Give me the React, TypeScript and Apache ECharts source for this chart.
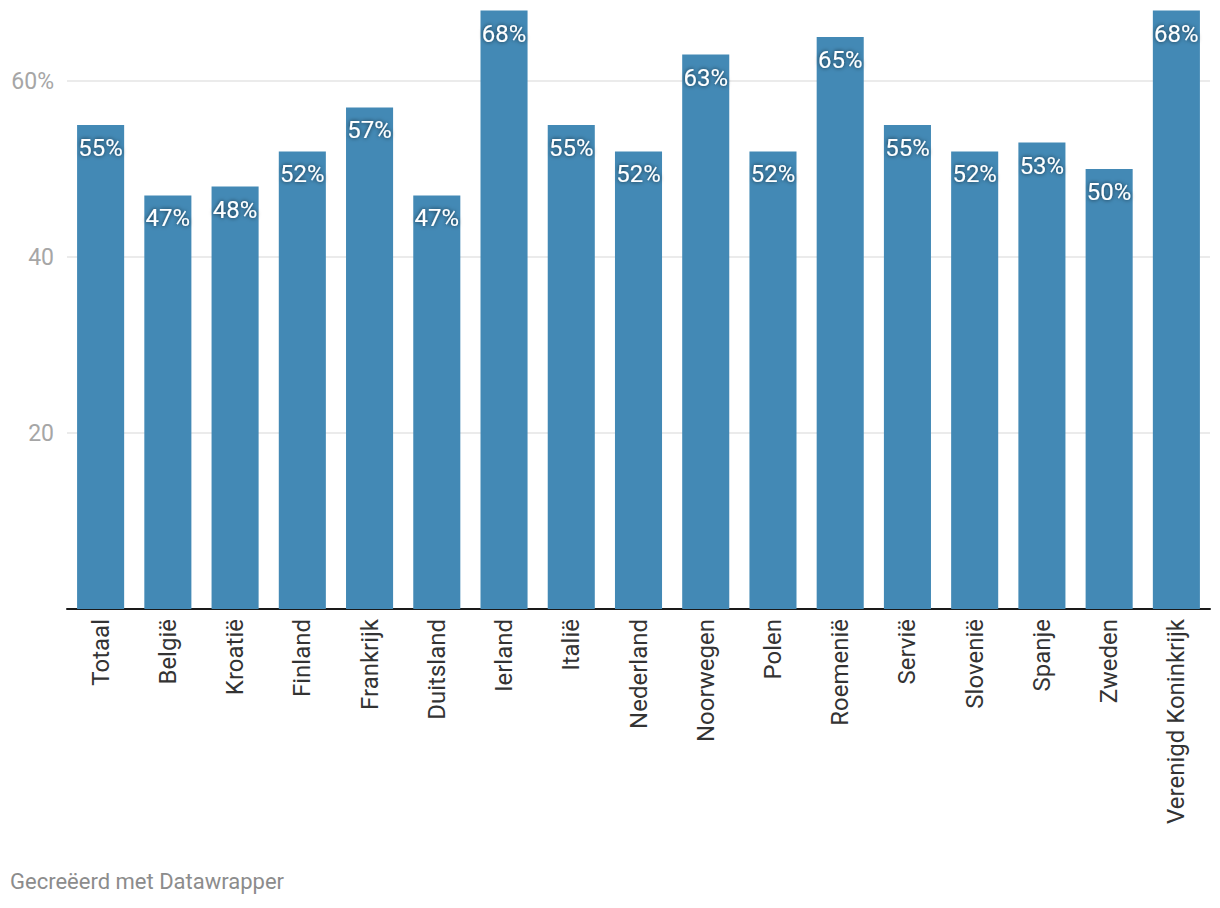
import React, { useEffect, useRef } from "react";
import * as echarts from "echarts";

const categories = [
  "Totaal", "België", "Kroatië", "Finland", "Frankrijk", "Duitsland", "Ierland", "Italië",
  "Nederland", "Noorwegen", "Polen", "Roemenië", "Servië", "Slovenië", "Spanje", "Zweden",
  "Verenigd Koninkrijk",
];
const values = [55, 47, 48, 52, 57, 47, 68, 55, 52, 63, 52, 65, 55, 52, 53, 50, 68];
const yMin = 0;
const yMax = 68;
const yInterval = 20;

export default function App() {
  const ref = useRef<HTMLDivElement>(null);
  useEffect(() => {
    const chart = echarts.init(ref.current!, null, { renderer: "svg" });
    const font = "Roboto, 'Noto Sans', sans-serif";
    chart.setOption({
      animation: false,
      textStyle: { fontFamily: font },
      grid: { left: 67, right: 10, top: 609 - yMax * 8.8, bottom: 299, containLabel: false },
      xAxis: {
        type: "category",
        data: categories,
        axisLine: { lineStyle: { color: "#1a1a1a", width: 2 } },
        axisTick: { show: false },
        axisLabel: { rotate: 90, margin: 10, fontSize: 24, color: "#333333", fontFamily: font },
      },
      yAxis: {
        type: "value",
        min: yMin,
        max: yMax,
        interval: yInterval,
        axisLine: { show: false },
        axisTick: { show: false },
        splitLine: { showMaxLine: false, lineStyle: { color: "#e5e5e5", width: 1.5 } },
        axisLabel: {
          margin: 13,
          fontSize: 23,
          color: "#a6a6a6",
          fontFamily: font,
          showMaxLabel: false,
          formatter: (v: number) => (v === 0 || v === yMax ? "" : v === 60 ? v + "%" : String(v)),
        },
      },
      series: [
        {
          type: "bar",
          data: values,
          barCategoryGap: "30%",
          itemStyle: { color: "#4389b5" },
          label: {
            show: true,
            position: "insideTop",
            distance: 11,
            formatter: "{c}%",
            color: "#ffffff",
            fontSize: 24,
            fontFamily: font,
            textShadowColor: "rgba(0,0,0,0.7)",
            textShadowBlur: 4,
          },
        },
      ],
      graphic: [
        {
          type: "text",
          left: 10,
          top: 870,
          style: { text: "Gecreëerd met Datawrapper", fontSize: 22, fill: "#8c8c8c", fontFamily: font },
        },
      ],
    });
    return () => chart.dispose();
  }, []);
  return <div ref={ref} style={{ width: 1220, height: 908, position: "absolute", left: 0, top: 0 }} />;
}
